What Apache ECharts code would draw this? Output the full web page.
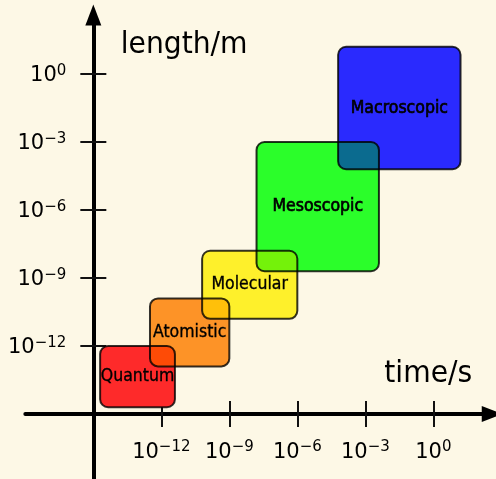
<!DOCTYPE html>
<html>
<head>
<meta charset="utf-8">
<style>
  html, body { margin: 0; padding: 0; background: #fdf8e6; }
  #chart { width: 496px; height: 479px; }
</style>
<script src="https://cdn.jsdelivr.net/npm/echarts@6/dist/echarts.min.js"></script>
</head>
<body>
<div id="chart"></div>
<script>
// Modelling scales, each spanning a range of time (s) and length (m), as log10 exponents
const scales = ['Quantum', 'Atomistic', 'Molecular', 'Mesoscopic', 'Macroscopic'];
const timeFrom = [-14.7, -12.5, -10.2, -7.8, -4.2];
const timeTo = [-11.4, -9.0, -6.0, -2.4, 1.2];
const lengthFrom = [-14.7, -12.9, -10.8, -8.7, -4.2];
const lengthTo = [-12.0, -9.9, -7.8, -3.0, 1.2];

// Decades that carry a tick and a label on both axes
const tickExponents = [-12, -9, -6, -3, 0];

// Exponent where the two axes cross; axis values are stored relative to it
const ORIGIN = -15;
const AXIS_MIN = -3;     // 10^-18
const AXIS_MAX = 17.6;   // ~10^2.6
const STEP = 3;

// Plot area (both axes share the same pixels-per-decade)
const GRID = { left: 25.33, top: 15.07, size: 466.93 };
const PX_PER_UNIT = GRID.size / (AXIS_MAX - AXIS_MIN);
// distance from the grid's low edge to the crossing point
const CROSS_OFFSET = (0 - AXIS_MIN) * PX_PER_UNIT;

const FONT = 'DejaVu Sans';
const fillColors = ['#fe2a2a', '#fd9327', '#fef02b', '#2bfe2a', '#2a2afe'];
const overlapColors = [null, '#fe4b06', '#ffc00a', '#74f20a', '#0b6b8f'];
const labelStroke = [0.35, 0.35, 0.35, 0.7, 0.7];
const edgeColor = 'rgba(0,0,0,0.8)';
const CORNER = 8;

const rows = scales.map((name, i) => [
  timeFrom[i] - ORIGIN, timeTo[i] - ORIGIN,
  lengthFrom[i] - ORIGIN, lengthTo[i] - ORIGIN, name
]);

const SUP = { '-': '\u2212' };
function powerLabel(v) {
  const e = Math.round(v + ORIGIN);
  const s = String(e).split('').map(c => SUP[c] || c).join('');
  return '{b|10}{s|' + s + '}';
}
const labelRich = {
  b: { fontSize: 21, lineHeight: 25, fontFamily: FONT, color: '#000' },
  s: { fontSize: 15, lineHeight: 15, verticalAlign: 'top', fontFamily: FONT, color: '#000' }
};
const tickValues = tickExponents.map(e => e - ORIGIN);

function makeAxis(dim, second) {
  const base = {
    type: 'value',
    min: AXIS_MIN,
    max: AXIS_MAX,
    interval: STEP,
    splitLine: { show: false },
    axisTick: {
      show: true,
      length: 13,
      customValues: tickValues,
      lineStyle: { color: '#111', width: 2 }
    }
  };
  if (!second) {
    // main axis line, shifted inwards from the grid edge to the crossing point
    base.position = dim === 'x' ? 'bottom' : 'left';
    base.offset = -CROSS_OFFSET;
    base.axisLine = {
      show: true,
      onZero: false,
      symbol: ['none', 'triangle'],
      symbolSize: [16, 21],
      lineStyle: { color: '#000', width: 4 }
    };
    base.axisLabel = {
      show: true,
      customValues: tickValues,
      margin: dim === 'x' ? 26 : 27,
      padding: dim === 'x' ? 0 : [4, 0, 0, 0],
      fontSize: 21,
      fontFamily: FONT,
      color: '#000',
      formatter: powerLabel,
      rich: labelRich
    };
  } else {
    // mirror axis: only ticks, on the opposite side of the same line
    base.position = dim === 'x' ? 'top' : 'right';
    base.offset = -(AXIS_MAX * PX_PER_UNIT);
    base.axisLine = {
      show: true,
      onZero: false,
      lineStyle: { color: '#000', width: 4, opacity: 0 }
    };
    base.axisLabel = { show: false };
  }
  return base;
}

function renderScale(params, api) {
  const i = params.dataIndex;
  const tl = api.coord([api.value(0), api.value(3)]);
  const br = api.coord([api.value(1), api.value(2)]);
  const shape = { x: tl[0], y: tl[1], width: br[0] - tl[0], height: br[1] - tl[1], r: CORNER };
  const children = [
    { type: 'rect', shape: shape, style: { fill: fillColors[i] }, z2: 0 },
    { type: 'rect', shape: shape, style: { fill: 'none', stroke: edgeColor, lineWidth: 2 }, z2: 2 },
    {
      type: 'text', z2: 3,
      x: (tl[0] + br[0]) / 2, y: (tl[1] + br[1]) / 2, scaleX: 0.9,
      style: {
        text: scales[i], x: 0, y: 0,
        align: 'center', verticalAlign: 'middle',
        fill: '#000', stroke: '#000', lineWidth: labelStroke[i],
        fontSize: 17.5, fontFamily: FONT
      }
    }
  ];
  if (i > 0) {
    // region shared with the previous scale
    const x0 = timeFrom[i] - ORIGIN, x1 = timeTo[i - 1] - ORIGIN;
    const y0 = lengthFrom[i] - ORIGIN, y1 = lengthTo[i - 1] - ORIGIN;
    if (x1 > x0 && y1 > y0) {
      const a = api.coord([x0, y1]);
      const b = api.coord([x1, y0]);
      children.push({
        type: 'rect', z2: 1,
        shape: { x: a[0], y: a[1], width: b[0] - a[0], height: b[1] - a[1], r: [0, CORNER, 0, CORNER] },
        style: { fill: overlapColors[i] }
      });
    }
  }
  return { type: 'group', children: children };
}

const chart = echarts.init(document.getElementById('chart'));
chart.setOption({
  backgroundColor: '#fdf8e6',
  animation: false,
  grid: {
    left: GRID.left, top: GRID.top, width: GRID.size, height: GRID.size,
    containLabel: false, outerBoundsMode: 'none'
  },
  xAxis: [makeAxis('x', false), makeAxis('x', true)],
  yAxis: [makeAxis('y', false), makeAxis('y', true)],
  graphic: [
    { type: 'text', x: 120.7, y: 45, scaleX: 0.94, style: { text: 'length/m', fontSize: 30, fontFamily: FONT, fill: '#000', align: 'left', verticalAlign: 'middle' } },
    { type: 'text', x: 384.3, y: 374.6, scaleX: 0.94, style: { text: 'time/s', fontSize: 30, fontFamily: FONT, fill: '#000', align: 'left', verticalAlign: 'middle' } }
  ],
  series: [{
    type: 'custom',
    xAxisIndex: 0,
    yAxisIndex: 0,
    clip: false,
    renderItem: renderScale,
    encode: { x: [0, 1], y: [2, 3] },
    data: rows
  }]
});
</script>
</body>
</html>
